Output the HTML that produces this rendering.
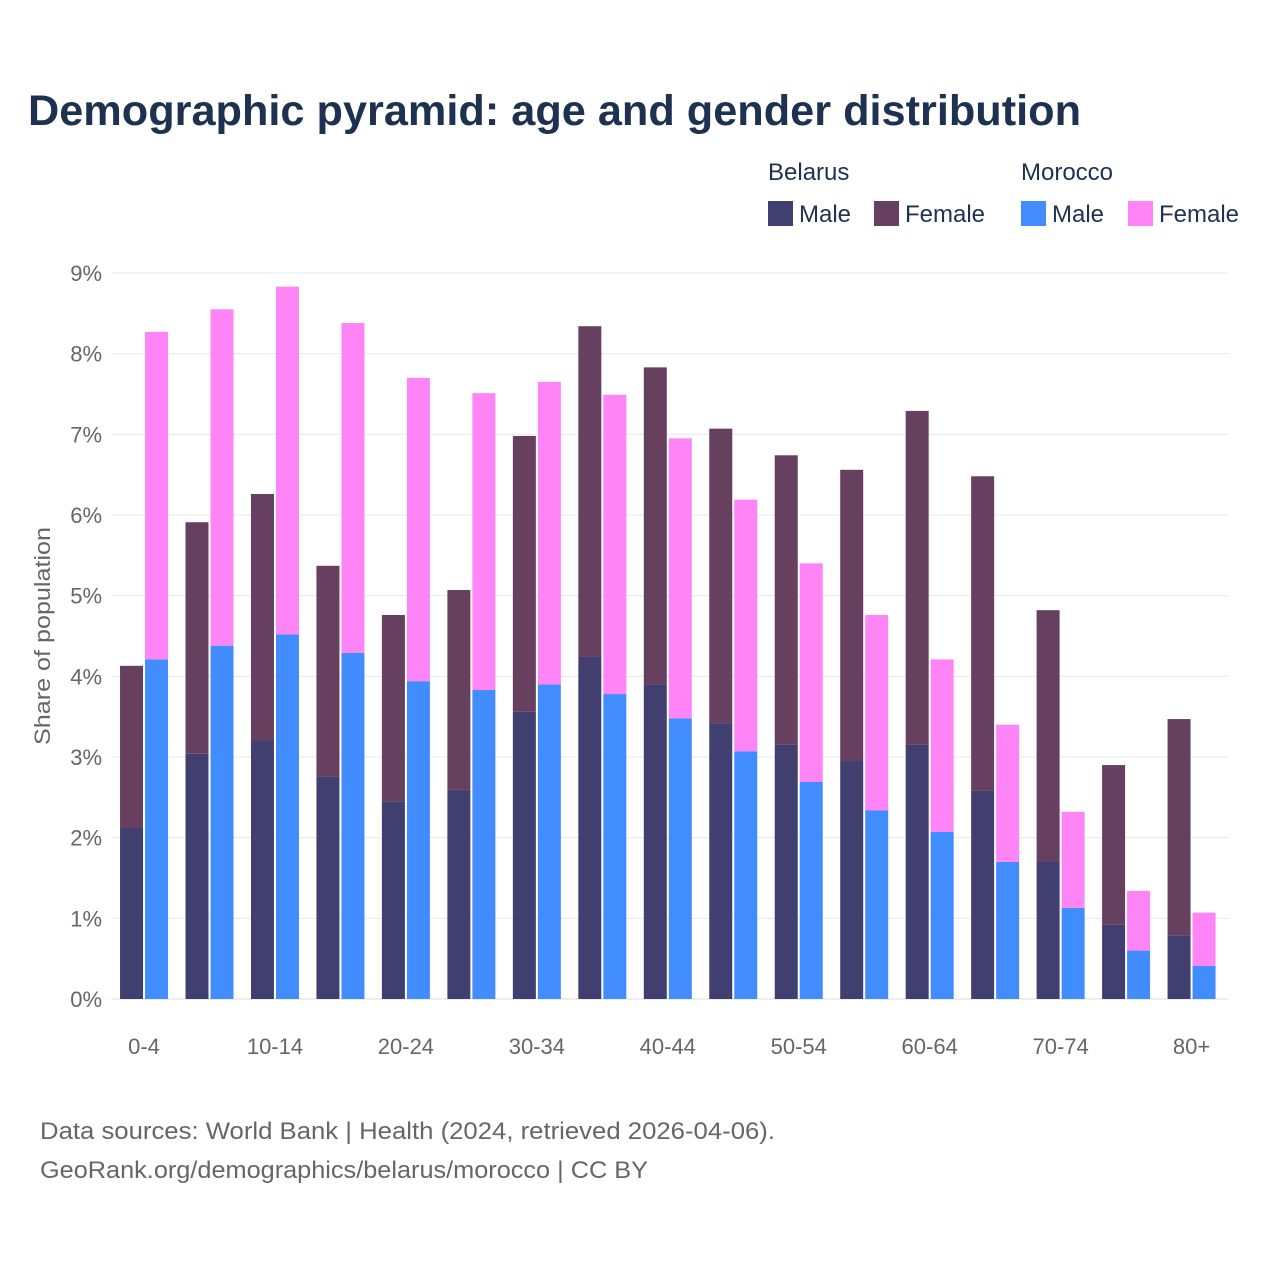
<!DOCTYPE html>
<html><head><meta charset="utf-8">
<style>
body{margin:0;background:#fff;}
svg text{font-family:"Liberation Sans",sans-serif;}
</style></head>
<body>
<svg id="chart" width="1280" height="1280" xmlns="http://www.w3.org/2000/svg">
<rect width="1280" height="1280" fill="#fff"/>
<text x="28" y="125" font-size="43" font-weight="bold" fill="#1d3150" textLength="1053" lengthAdjust="spacingAndGlyphs">Demographic pyramid: age and gender distribution</text>
<g font-size="24" fill="#1d3150">
<text x="768" y="180" fill="#1d3150">Belarus</text>
<text x="1021" y="180" fill="#1d3150">Morocco</text>
<rect x="768" y="201" width="25" height="25" fill="#413f6f"/>
<text x="799" y="222" fill="#1d3150">Male</text>
<rect x="874" y="201" width="25" height="25" fill="#673f5f"/>
<text x="905" y="222" fill="#1d3150">Female</text>
<rect x="1021" y="201" width="25" height="25" fill="#418cff"/>
<text x="1052" y="222" fill="#1d3150">Male</text>
<rect x="1128" y="201" width="25" height="25" fill="#ff85f7"/>
<text x="1159" y="222" fill="#1d3150">Female</text>
</g>
<text transform="translate(50,636) rotate(-90)" text-anchor="middle" font-size="22" fill="#666" textLength="218" lengthAdjust="spacingAndGlyphs">Share of population</text>
<g id="grid"></g>
<g id="bars"></g>
<g id="xlabels"></g>
<text x="40" y="1139" font-size="24" fill="#666" textLength="735" lengthAdjust="spacingAndGlyphs">Data sources: World Bank | Health (2024, retrieved 2026-04-06).</text>
<text x="40" y="1178" font-size="24" fill="#666" textLength="608" lengthAdjust="spacingAndGlyphs">GeoRank.org/demographics/belarus/morocco | CC BY</text>
</svg>
<script>
const categories=["0-4","5-9","10-14","15-19","20-24","25-29","30-34","35-39","40-44","45-49","50-54","55-59","60-64","65-69","70-74","75-79","80+"];
const belarusMale=[2.12,3.04,3.21,2.76,2.45,2.60,3.56,4.24,3.90,3.42,3.15,2.95,3.15,2.58,1.71,0.92,0.79];
const belarusFemale=[2.01,2.87,3.05,2.61,2.31,2.47,3.42,4.10,3.93,3.65,3.59,3.61,4.14,3.90,3.11,1.98,2.68];
const moroccoMale=[4.21,4.38,4.52,4.29,3.94,3.83,3.90,3.78,3.48,3.07,2.69,2.34,2.07,1.70,1.13,0.60,0.41];
const moroccoFemale=[4.06,4.17,4.31,4.09,3.76,3.68,3.75,3.71,3.47,3.12,2.71,2.42,2.14,1.70,1.19,0.74,0.66];
const yTicks=[0,1,2,3,4,5,6,7,8,9];
const xLabelEvery=2;

const NS="http://www.w3.org/2000/svg";
const plotL=111.3,plotR=1228,y0=999,pxPer=80.67,pitch=65.47,barW=23;
const y=v=>y0-v*pxPer;
const xc=i=>plotL+pitch*(i+0.5);
function mk(tag,attrs,parent){const e=document.createElementNS(NS,tag);for(const k in attrs)e.setAttribute(k,attrs[k]);parent.appendChild(e);return e;}
const grid=document.getElementById('grid'),bars=document.getElementById('bars'),xl=document.getElementById('xlabels');
yTicks.forEach(t=>{
 const l=mk('line',{x1:plotL,x2:plotR,y1:y(t),y2:y(t),stroke:t===0?'#ddd':'#e8e8e8','stroke-width':1},grid);
 
 
 const tx=mk('text',{x:102,y:y(t)+8,'text-anchor':'end','font-size':22,fill:'#666'},grid);
 tx.textContent=t+'%';
 
 
});
function bar(x,v0,v1,color,name){
 const r=mk('rect',{x:x,y:y(v1),width:barW,height:y(v0)-y(v1),fill:color},bars);
 
 
}
categories.forEach((c,i)=>{
 const cx=xc(i);
 bar(cx-barW-1,0,belarusMale[i],'#413f6f','bar-belarus-male');
 bar(cx-barW-1,belarusMale[i],belarusMale[i]+belarusFemale[i],'#673f5f','bar-belarus-female');
 bar(cx+1,0,moroccoMale[i],'#418cff','bar-morocco-male');
 bar(cx+1,moroccoMale[i],moroccoMale[i]+moroccoFemale[i],'#ff85f7','bar-morocco-female');
 if(i%xLabelEvery===0){
  const t=mk('text',{x:cx,y:1054,'text-anchor':'middle','font-size':22,fill:'#666'},xl);
  t.textContent=c;
  
  
 }
});
</script>
</body></html>
